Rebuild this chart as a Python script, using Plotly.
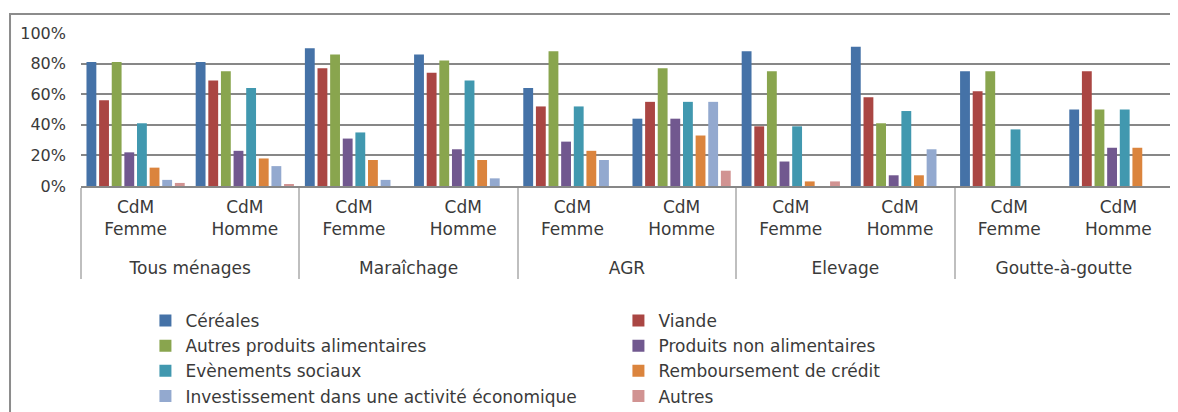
import plotly.graph_objects as go

# categories
groups = ["Tous ménages", "Tous ménages", "Maraîchage", "Maraîchage", "AGR", "AGR",
          "Elevage", "Elevage", "Goutte-à-goutte", "Goutte-à-goutte"]
subs = ["CdM<br>Femme<br>\u00a0", "CdM<br>Homme<br>\u00a0"] * 5

# series values (%)
cereales = [81, 81, 90, 86, 64, 44, 88, 91, 75, 50]
viande = [56, 69, 77, 74, 52, 55, 39, 58, 62, 75]
autres_alim = [81, 75, 86, 82, 88, 77, 75, 41, 75, 50]
non_alim = [22, 23, 31, 24, 29, 44, 16, 7, 0, 25]
evenements = [41, 64, 35, 69, 52, 55, 39, 49, 37, 50]
remboursement = [12, 18, 17, 17, 23, 33, 3, 7, 0, 25]
investissement = [4, 13, 4, 5, 17, 55, 0, 24, 0, 0]
autres = [2, 1, 0, 0, 0, 10, 3, 0, 0, 0]

series_names = ["Céréales", "Viande", "Autres produits alimentaires", "Produits non alimentaires",
                "Evènements sociaux", "Remboursement de crédit",
                "Investissement dans une activité économique", "Autres"]
series_values = [cereales, viande, autres_alim, non_alim, evenements, remboursement,
                 investissement, autres]
colors = ["#4572A7", "#AA4643", "#89A54E", "#71588F", "#4198AF", "#DB843D", "#93A9CF", "#D19392"]

y_ticks = [0, 20, 40, 60, 80, 100]
y_labels = ["0%", "20%", "40%", "60%", "80%", "100%"]

font_family = "DejaVu Sans"
text_color = "#3a3a3a"

fig = go.Figure()
for name, vals, col in zip(series_names, series_values, colors):
    fig.add_trace(go.Bar(
        x=[groups, subs],
        y=vals,
        name=name,
        marker=dict(color=col, line=dict(width=0)),
    ))

fig.update_layout(
    width=1178,
    height=412,
    margin=dict(l=73, r=13, t=25, b=234, autoexpand=False),
    paper_bgcolor="white",
    plot_bgcolor="white",
    barmode="group",
    bargap=0.075,
    bargroupgap=0.22,
    font=dict(family=font_family, size=16, color=text_color),
    showlegend=True,
    legend=dict(
        orientation="h",
        x=0.059,
        xanchor="left",
        y=-0.765,
        yanchor="top",
        entrywidth=428,
        entrywidthmode="pixels",
        font=dict(size=17),
        traceorder="normal",
        bgcolor="rgba(0,0,0,0)",
    ),
    shapes=[dict(
        type="rect", xref="paper", yref="paper",
        x0=-0.065, x1=1.05, y0=-1.6, y1=1.124,
        line=dict(color="#8c8c8c", width=2),
        fillcolor="rgba(0,0,0,0)",
        layer="below",
    )],
)

fig.update_yaxes(
    range=[0, 100],
    tickvals=y_ticks,
    ticktext=y_labels,
    showgrid=True,
    gridcolor="#878787",
    gridwidth=1.5,
    zeroline=False,
    showline=False,
    ticks="",
    ticklabelstandoff=14,
)

fig.update_xaxes(
    type="multicategory",
    showline=True,
    linecolor="#878787",
    linewidth=1.5,
    showdividers=True,
    dividercolor="#bfbfbf",
    dividerwidth=1.5,
    ticks="",
    tickfont=dict(size=17),
    ticklabelstandoff=5,
)

fig.write_html("out.html")
